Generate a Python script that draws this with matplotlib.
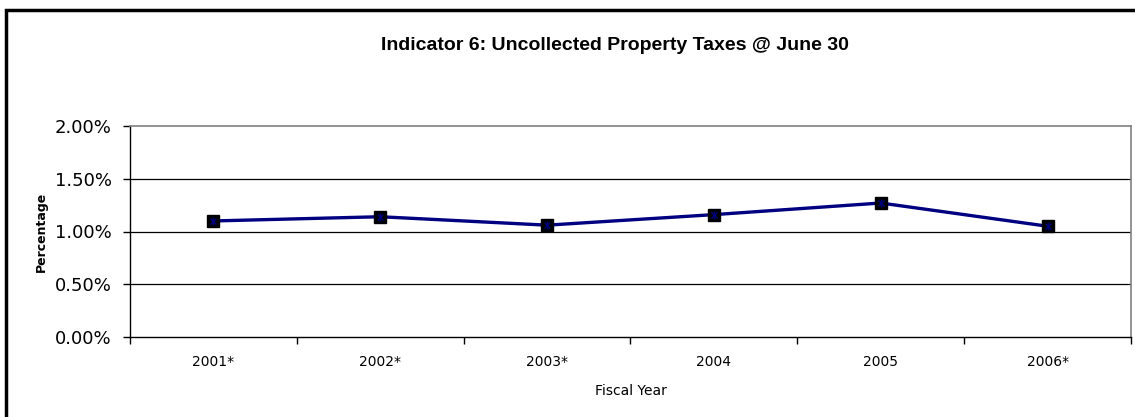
import matplotlib.pyplot as plt
from matplotlib.patches import Rectangle
from matplotlib.ticker import FixedLocator, FuncFormatter, NullFormatter

years = ["2001*", "2002*", "2003*", "2004", "2005", "2006*"]
uncollected_pct = [1.10, 1.14, 1.06, 1.16, 1.27, 1.05]
y_ticks = [0.0, 0.5, 1.0, 1.5, 2.0]

navy = "#000080"

fig = plt.figure(figsize=(11.35, 4.17), dpi=100)
ax = fig.add_axes([130 / 1135, 80 / 417, 1001 / 1135, 211 / 417])

# outer chart frame (runs off the right and bottom edges)
fig.patches.append(Rectangle((6 / 1135, -0.05), 1.1, (417 - 10) / 417 + 0.05,
                             transform=fig.transFigure, fill=False,
                             edgecolor="black", linewidth=2.5))

x = list(range(len(years)))
ax.plot(x, uncollected_pct, color=navy, linewidth=2.4, zorder=3)
ax.plot(x, uncollected_pct, linestyle="none", marker="s", markersize=8.5,
        markerfacecolor="black", markeredgecolor="black", zorder=4)
ax.plot(x, uncollected_pct, linestyle="none", marker="x", markersize=5,
        markeredgecolor=navy, markeredgewidth=1.0, zorder=5)
ax.plot(x, uncollected_pct, linestyle="none", marker="|", markersize=6,
        markeredgecolor=navy, markeredgewidth=1.0, zorder=5)

ax.set_xlim(-0.5, len(years) - 0.5)
ax.set_ylim(0, 2.0)

# category labels centred, tick marks between categories
ax.xaxis.set_major_locator(FixedLocator([i - 0.5 for i in range(len(years) + 1)]))
ax.xaxis.set_major_formatter(NullFormatter())
ax.xaxis.set_minor_locator(FixedLocator(x))
ax.set_xticklabels(years, minor=True)
ax.tick_params(axis="x", which="minor", length=0, pad=13, labelsize=10)
ax.tick_params(axis="x", which="major", length=5, width=1, direction="out")

ax.set_yticks(y_ticks)
ax.yaxis.set_major_formatter(FuncFormatter(lambda v, p: f"{v:.2f}%"))
ax.tick_params(axis="y", length=5, width=1, direction="out", labelsize=13, pad=8)

for v in y_ticks[1:-1]:
    ax.axhline(v, color="black", linewidth=0.9, zorder=1)

for side in ["top", "right"]:
    ax.spines[side].set_color("#808080")
    ax.spines[side].set_linewidth(1.2)
for side in ["left", "bottom"]:
    ax.spines[side].set_color("black")
    ax.spines[side].set_linewidth(1.0)

ax.set_xlabel("Fiscal Year", fontsize=10)
ax.xaxis.set_label_coords(0.5, -(384 - 337) / 211)
ax.set_ylabel("Percentage", fontsize=9, fontweight="bold")
ax.yaxis.set_label_coords(-(130 - 48) / 1001, 0.5)

fig.text(615 / 1135, 1 - 45 / 417, "Indicator 6: Uncollected Property Taxes @ June 30",
         ha="center", va="center", fontsize=14, fontweight="bold",
         family="Liberation Sans")

fig.savefig("out.png", dpi=100)
